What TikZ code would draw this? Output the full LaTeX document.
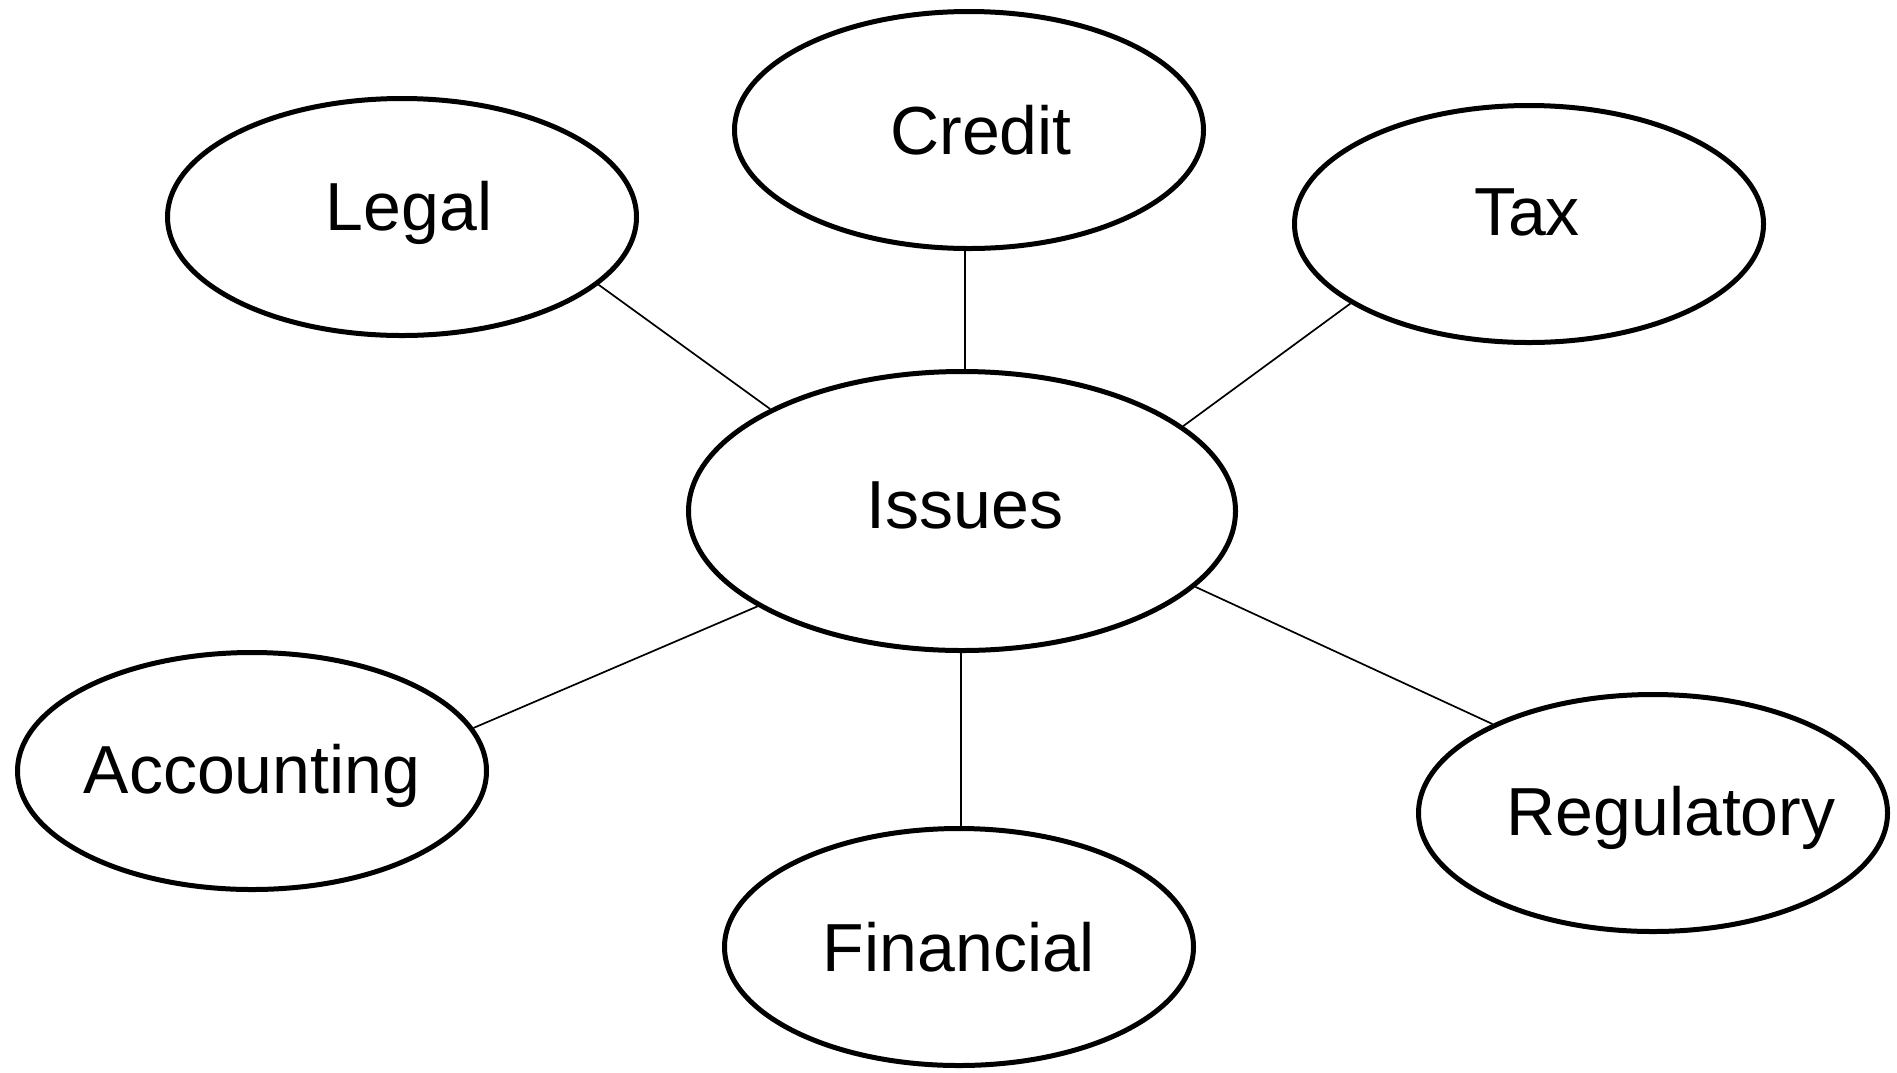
\documentclass[tikz,border=0pt]{standalone}
\usepackage{fontspec}
\setmainfont{Liberation Sans}
\usetikzlibrary{shapes.geometric}
\begin{document}
\begin{tikzpicture}[x=1pt,y=-1pt,
  topic/.style={draw=black, line width=5pt, ellipse, inner sep=0pt,
    minimum width=469pt, minimum height=237pt},
  hub/.style={topic, minimum width=547pt, minimum height=279pt},
  word/.style={inner sep=0pt, font=\fontsize{68}{80}\selectfont},
  link/.style={draw=black, line width=1.7pt}]
\useasboundingbox (0,0) rectangle (1897,1072);
\node[hub]   (issues) at (962,511) {};
\node[topic] (credit) at (969,130) {};
\node[topic] (legal)  at (402,217) {};
\node[topic] (tax)    at (1529,224) {};
\node[topic] (acct)   at (252,771) {};
\node[topic] (fin)    at (959,947) {};
\node[topic] (reg)    at (1653,813) {};
\node[word] (issuesT) at (965,505) {Issues};
\node[word] (creditT) at (981,130) {Credit};
\node[word] (legalT)  at (409,213) {Legal};
\node[word] (taxT)    at (1527,212) {Tax};
\node[word] (acctT)   at (252,776) {Accounting};
\node[word] (finT)    at (959,947) {Financial};
\node[word] (regT)    at (1671,818) {Regulatory};
\draw[link] (legal.-19.6) -- (issues.152.3);
\draw[link] (credit.-92.4) -- (credit.-92.4 |- issues.north);
\draw[link] (tax.204.5) -- (issues.21.9);
\draw[link] (acct.11.2) -- (issues.205);
\draw[link] (fin.89) -- (fin.89 |- issues.south);
\draw[link] (reg.151.4) -- (issues.-18.3);
\end{tikzpicture}
\end{document}
